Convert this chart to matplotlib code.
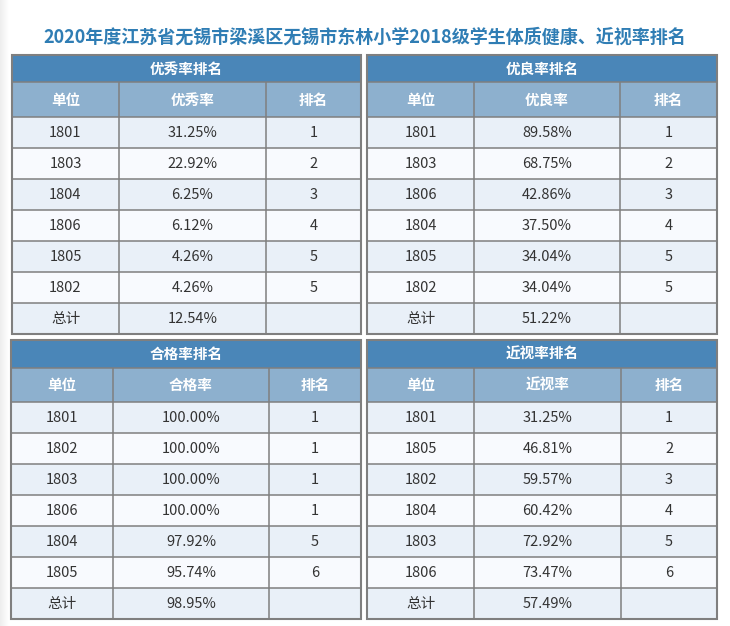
import matplotlib
matplotlib.use("Agg")
import matplotlib.pyplot as plt
from matplotlib.patches import Rectangle
import numpy as np

plt.rcParams['font.family'] = ['Noto Sans CJK SC', 'DejaVu Sans']

# ---------------- data ----------------
title = "2020年度江苏省无锡市梁溪区无锡市东林小学2018级学生体质健康、近视率排名"
col_headers = ["单位", None, "排名"]
total_label = "总计"

t1_name = "优秀率排名"
t1_metric = "优秀率"
t1_units = ["1801", "1803", "1804", "1806", "1805", "1802"]
t1_rates = [31.25, 22.92, 6.25, 6.12, 4.26, 4.26]
t1_ranks = [1, 2, 3, 4, 5, 5]
t1_total = 12.54

t2_name = "优良率排名"
t2_metric = "优良率"
t2_units = ["1801", "1803", "1806", "1804", "1805", "1802"]
t2_rates = [89.58, 68.75, 42.86, 37.50, 34.04, 34.04]
t2_ranks = [1, 2, 3, 4, 5, 5]
t2_total = 51.22

t3_name = "合格率排名"
t3_metric = "合格率"
t3_units = ["1801", "1802", "1803", "1806", "1804", "1805"]
t3_rates = [100.00, 100.00, 100.00, 100.00, 97.92, 95.74]
t3_ranks = [1, 1, 1, 1, 5, 6]
t3_total = 98.95

t4_name = "近视率排名"
t4_metric = "近视率"
t4_units = ["1801", "1805", "1802", "1804", "1803", "1806"]
t4_rates = [31.25, 46.81, 59.57, 60.42, 72.92, 73.47]
t4_ranks = [1, 2, 3, 4, 5, 6]
t4_total = 57.49

# ---------------- layout (pixels) ----------------
W, H = 730, 626
TITLE_COLOR = "#2F7DB4"
BAR_COLOR = "#4A86B8"
HEAD_COLOR = "#8DB0CE"
ODD_COLOR = "#E9F0F8"
EVEN_COLOR = "#F8FAFE"
BORDER = "#7F7F7F"
TEXT = "#333333"

layouts = [
    dict(cols=[12, 119, 266, 361], top=55, bar=27, head=35, row=31),
    dict(cols=[367, 474, 620, 717], top=55, bar=27, head=35, row=31),
    dict(cols=[11, 113, 269, 361], top=340, bar=28, head=34, row=31),
    dict(cols=[367, 474, 621, 717], top=340, bar=28, head=34, row=31),
]
tables = [
    (t1_name, t1_metric, t1_units, t1_rates, t1_ranks, t1_total),
    (t2_name, t2_metric, t2_units, t2_rates, t2_ranks, t2_total),
    (t3_name, t3_metric, t3_units, t3_rates, t3_ranks, t3_total),
    (t4_name, t4_metric, t4_units, t4_rates, t4_ranks, t4_total),
]

fig = plt.figure(figsize=(W / 100, H / 100), dpi=100)
fig.patch.set_facecolor("white")
ax = fig.add_axes([0, 0, 1, 1])
ax.set_xlim(0, W)
ax.set_ylim(H, 0)
ax.axis("off")

# subtle left shadow
grad = np.linspace(0.93, 1.0, 64).reshape(1, -1)
ax.imshow(np.dstack([grad, grad, grad]), extent=[0, 9, H, 0], aspect="auto", zorder=0)

ax.text(W / 2, 37, title, ha="center", va="center", fontsize=13.0,
        color=TITLE_COLOR, fontweight="bold")

FS = 10.5
LW_IN = 1.1
LW_OUT = 1.5

for (name, metric, units, rates, ranks, total), lay in zip(tables, layouts):
    cols = lay["cols"]
    x0, x1 = cols[0], cols[-1]
    top = lay["top"]
    y_bar = top + lay["bar"]
    y_head = y_bar + lay["head"]
    n = len(units) + 1
    y_bottom = y_head + n * lay["row"]

    # title bar
    ax.add_patch(Rectangle((x0, top), x1 - x0, lay["bar"], facecolor=BAR_COLOR,
                           edgecolor="none", zorder=1))
    ax.text((x0 + x1) / 2, (top + y_bar) / 2, name, ha="center", va="center",
            fontsize=FS, color="white", fontweight="bold", zorder=3)
    # header
    ax.add_patch(Rectangle((x0, y_bar), x1 - x0, lay["head"], facecolor=HEAD_COLOR,
                           edgecolor="none", zorder=1))
    headers = [col_headers[0], metric, col_headers[2]]
    for i, h in enumerate(headers):
        ax.text((cols[i] + cols[i + 1]) / 2, (y_bar + y_head) / 2, h, ha="center",
                va="center", fontsize=FS, color="white", fontweight="bold", zorder=3)
    # data rows
    rows = [[u, f"{r:.2f}%", str(k)] for u, r, k in zip(units, rates, ranks)]
    rows.append([total_label, f"{total:.2f}%", ""])
    for j, row in enumerate(rows):
        ry = y_head + j * lay["row"]
        ax.add_patch(Rectangle((x0, ry), x1 - x0, lay["row"],
                               facecolor=ODD_COLOR if j % 2 == 0 else EVEN_COLOR,
                               edgecolor="none", zorder=1))
        for i, v in enumerate(row):
            ax.text((cols[i] + cols[i + 1]) / 2, ry + lay["row"] / 2 + 0.5, v,
                    ha="center", va="center", fontsize=FS, color=TEXT, zorder=3)
        if j > 0:
            ax.plot([x0, x1], [ry, ry], color=BORDER, lw=LW_IN, zorder=2,
                    solid_capstyle="butt")
    # grid lines
    for yy in [y_bar, y_head]:
        ax.plot([x0, x1], [yy, yy], color=BORDER, lw=LW_IN, zorder=2,
                solid_capstyle="butt")
    for xx in cols[1:-1]:
        ax.plot([xx, xx], [y_bar, y_bottom], color=BORDER, lw=LW_IN, zorder=2,
                solid_capstyle="butt")
    ax.add_patch(Rectangle((x0, top), x1 - x0, y_bottom - top, facecolor="none",
                           edgecolor=BORDER, lw=LW_OUT, zorder=4))

fig.savefig("out.png", dpi=100, facecolor="white")
